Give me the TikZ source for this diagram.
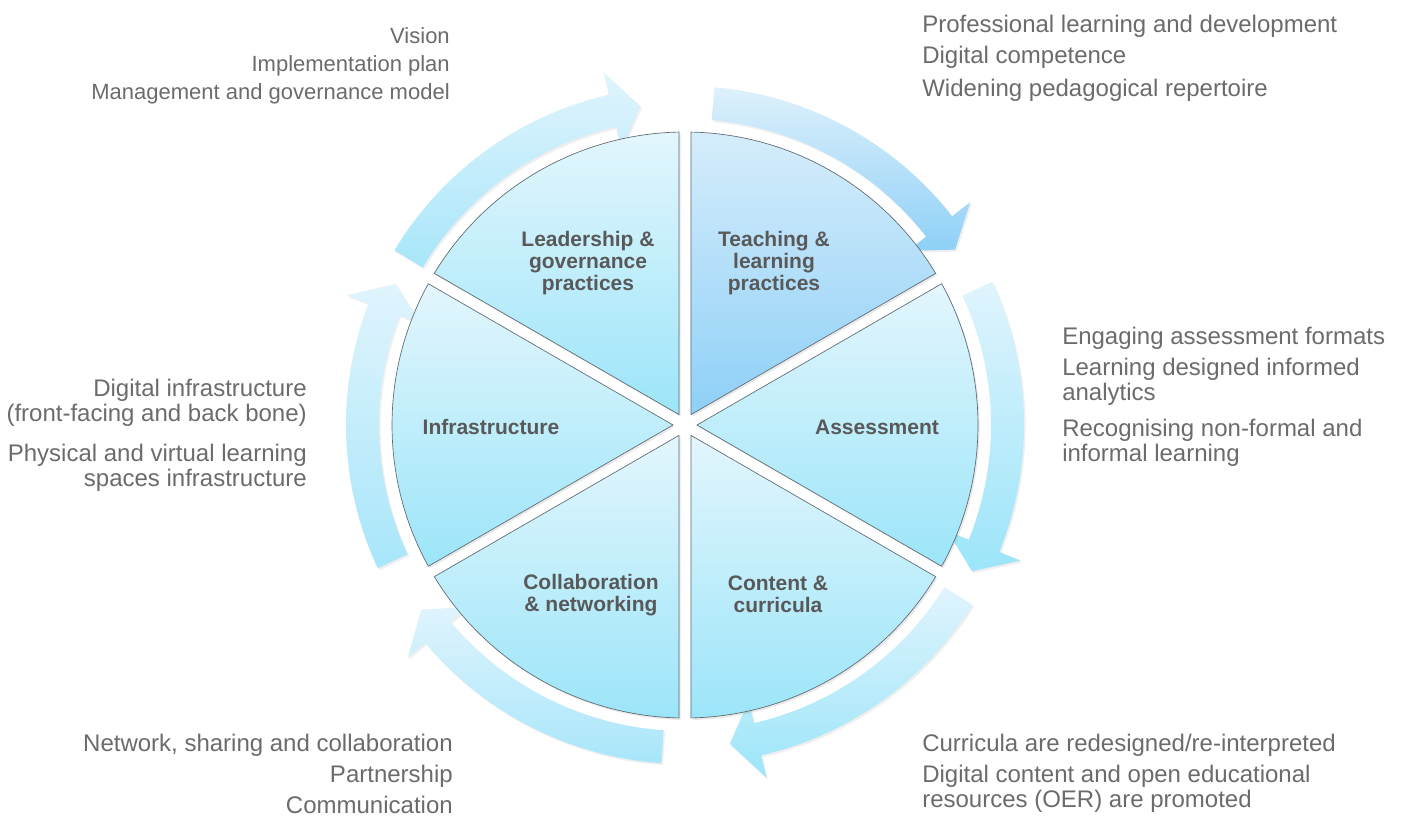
\documentclass[tikz,border=0pt]{standalone}
\usepackage{fontspec}
\setmainfont{Liberation Sans}
\usepackage{tikz}
\usetikzlibrary{shadows}
\definecolor{notegray}{HTML}{6B6B6B}
\definecolor{labelgray}{HTML}{595959}
\definecolor{rimgray}{HTML}{5E6A70}
\definecolor{secttop}{HTML}{E3F6FD}
\definecolor{sectbot}{HTML}{9CE5F9}
\definecolor{teachtop}{HTML}{D6EDFB}
\definecolor{teachbot}{HTML}{8ED0F7}
\definecolor{arrowtop}{HTML}{E0F4FD}
\definecolor{arrowbot}{HTML}{A8E6FA}

\begin{document}
\begin{tikzpicture}[x=0.75pt, y=0.75pt,
    sector/.style={draw=rimgray, line width=0.5pt, top color=secttop, bottom color=sectbot,
        drop shadow={opacity=0.18, shadow xshift=1.2pt, shadow yshift=-1.5pt}},
    cyclearrow/.style={draw=none, top color=arrowtop, bottom color=arrowbot,
        drop shadow={opacity=0.13, shadow xshift=1.2pt, shadow yshift=-1.5pt}},
    sectorlabel/.style={font=\bfseries\fontsize{15.75}{16.2}\selectfont, text=labelgray, align=center},
    sidenote/.style={font=\fontsize{18}{18.75}\selectfont, text=notegray, inner sep=0pt},
    smallnote/.style={sidenote, font=\fontsize{16.5}{18.75}\selectfont}]
    \useasboundingbox (-685,-391) rectangle (716,425);
    % arrows round the wheel
    \path[cyclearrow] (149:339) arc[start angle=149, end angle=103, radius=339] -- (103:362) -- (98:322) -- (103:283) -- (103:306) arc[start angle=103, end angle=149, radius=306] -- cycle;
    \path[cyclearrow, top color=teachtop!80!white, bottom color=teachbot] (85:339) arc[start angle=85, end angle=38, radius=339] -- (38:362) -- (33:322) -- (38:283) -- (38:306) arc[start angle=38, end angle=85, radius=306] -- cycle;
    \path[cyclearrow, bottom color=sectbot] (25:339) arc[start angle=25, end angle=-22, radius=339] -- (-22:362) -- (-27:322) -- (-22:283) -- (-22:306) arc[start angle=-22, end angle=25, radius=306] -- cycle;
    \path[cyclearrow, bottom color=sectbot] (-32:339) arc[start angle=-32, end angle=-77, radius=339] -- (-77:362) -- (-82:322) -- (-77:283) -- (-77:306) arc[start angle=-77, end angle=-32, radius=306] -- cycle;
    \path[cyclearrow] (-94:339) arc[start angle=-94, end angle=-140, radius=339] -- (-140:362) -- (-145:322) -- (-140:283) -- (-140:306) arc[start angle=-140, end angle=-94, radius=306] -- cycle;
    \path[cyclearrow] (205:339) arc[start angle=205, end angle=159, radius=339] -- (159:362) -- (154:322) -- (159:283) -- (159:306) arc[start angle=159, end angle=205, radius=306] -- cycle;
    % six sectors
    \draw[sector, top color=teachtop, bottom color=teachbot] (60:12) -- (31.17:293) arc[start angle=31.17, end angle=88.83, radius=293] -- cycle;
    \draw[sector] (0:12) -- (-28.83:293) arc[start angle=-28.83, end angle=28.83, radius=293] -- cycle;
    \draw[sector] (-60:12) -- (-88.83:293) arc[start angle=-88.83, end angle=-31.17, radius=293] -- cycle;
    \draw[sector] (-120:12) -- (-148.83:293) arc[start angle=-148.83, end angle=-91.17, radius=293] -- cycle;
    \draw[sector] (180:12) -- (151.17:293) arc[start angle=151.17, end angle=208.83, radius=293] -- cycle;
    \draw[sector] (120:12) -- (91.17:293) arc[start angle=91.17, end angle=148.83, radius=293] -- cycle;
    % sector labels
    \node[sectorlabel] (leadership) at (-97,162) {Leadership \&\\governance\\practices};
    \node[sectorlabel] (teaching) at (89,162) {Teaching \&\\learning\\practices};
    \node[sectorlabel] (infrastructure) at (-194,-2) {Infrastructure};
    \node[sectorlabel] (assessment) at (192,-2) {Assessment};
    \node[sectorlabel] (collaboration) at (-94,-170) {Collaboration\\\& networking};
    \node[sectorlabel] (content) at (93,-169) {Content \&\\curricula};
    % notes round the outside (base = last line)
    \node[smallnote, anchor=base east] (vision) at (-235,381) {Vision};
    \node[smallnote, anchor=base east] (implplan) at (-235,353) {Implementation plan};
    \node[smallnote, anchor=base east] (govmodel) at (-235,325) {Management and governance model};
    \node[sidenote, anchor=base west] (profdev) at (237,392) {Professional learning and development};
    \node[sidenote, anchor=base west] (digcomp) at (237,361) {Digital competence};
    \node[sidenote, anchor=base west] (pedrep) at (237,328) {Widening pedagogical repertoire};
    \node[sidenote, anchor=base west, align=left] (engaging) at (377,80) {Engaging assessment formats};
    \node[sidenote, anchor=base west, align=left] (analytics) at (377,24) {Learning designed informed\\analytics};
    \node[sidenote, anchor=base west, align=left] (nonformal) at (377,-37) {Recognising non-formal and\\informal learning};
    \node[sidenote, anchor=base east, align=right] (diginfra) at (-378,3) {Digital infrastructure\\(front-facing and back bone)};
    \node[sidenote, anchor=base east, align=right] (spaces) at (-378,-62) {Physical and virtual learning\\spaces infrastructure};
    \node[sidenote, anchor=base east] (network) at (-232,-326) {Network, sharing and collaboration};
    \node[sidenote, anchor=base east] (partner) at (-232,-357) {Partnership};
    \node[sidenote, anchor=base east] (communic) at (-232,-388) {Communication};
    \node[sidenote, anchor=base west] (curricula) at (237,-326) {Curricula are redesigned/re-interpreted};
    \node[sidenote, anchor=base west, align=left] (oer) at (237,-382) {Digital content and open educational\\resources (OER) are promoted};
\end{tikzpicture}
\end{document}
